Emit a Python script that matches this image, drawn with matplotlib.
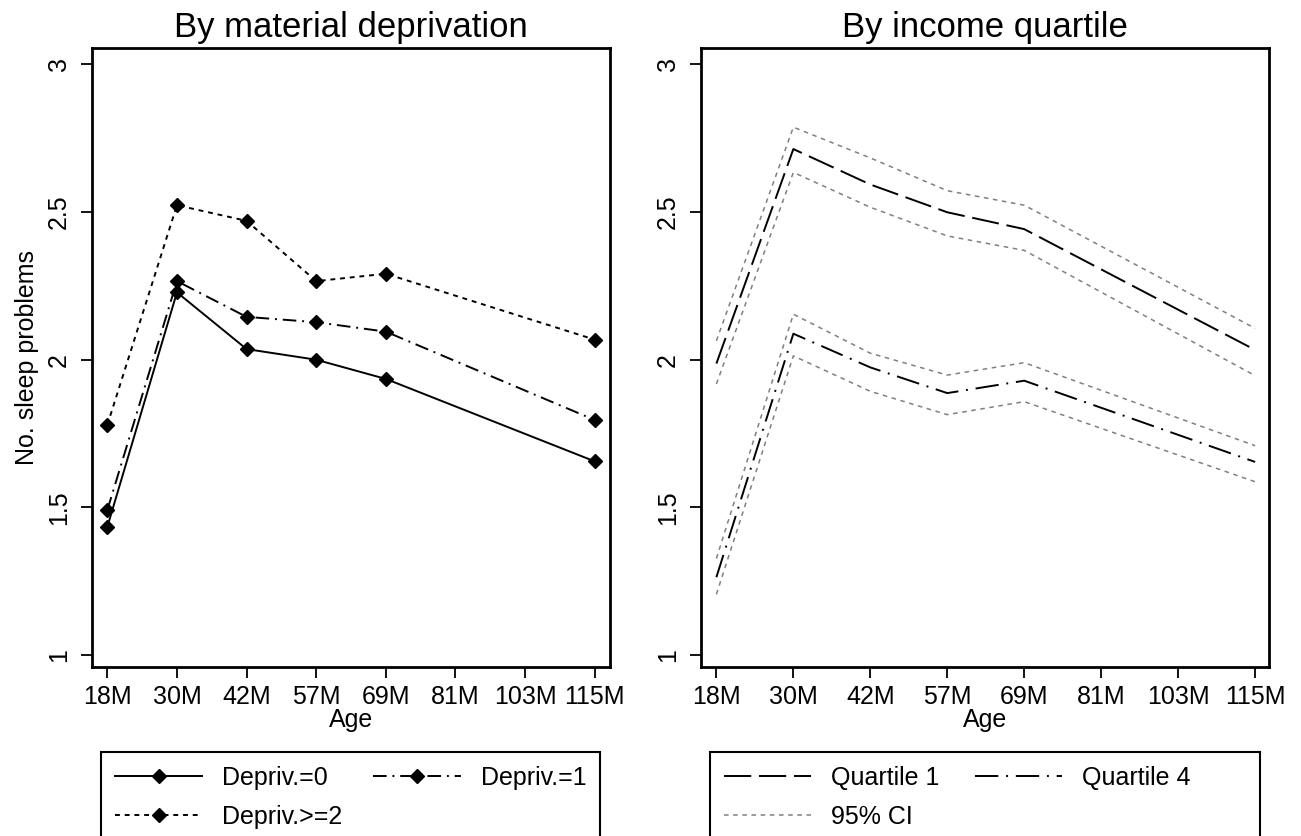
import matplotlib.pyplot as plt

plt.rcParams["font.family"] = ["Liberation Sans", "DejaVu Sans"]

# Age waves on the x axis (categorical) and the waves with observations
ages = ["18M", "30M", "42M", "57M", "69M", "81M", "103M", "115M"]
waves = ["18M", "30M", "42M", "57M", "69M", "115M"]

# Left panel: by material deprivation
depriv_0 = [1.434, 2.228, 2.036, 2.000, 1.935, 1.656]
depriv_1 = [1.491, 2.266, 2.145, 2.127, 2.095, 1.796]
depriv_2 = [1.779, 2.523, 2.470, 2.266, 2.291, 2.068]

# Right panel: by income quartile, with 95% CI
q1 = [1.987, 2.713, 2.593, 2.499, 2.442, 2.033]
q1_hi = [2.064, 2.787, 2.683, 2.572, 2.523, 2.106]
q1_lo = [1.918, 2.634, 2.516, 2.419, 2.370, 1.946]
q4 = [1.264, 2.088, 1.974, 1.887, 1.929, 1.654]
q4_hi = [1.327, 2.154, 2.022, 1.948, 1.990, 1.709]
q4_lo = [1.206, 2.013, 1.893, 1.814, 1.858, 1.587]

yticks = [1, 1.5, 2, 2.5, 3]
ytick_labels = ["1", "1.5", "2", "2.5", "3"]

x = [ages.index(w) for w in waves]

fig = plt.figure(figsize=(13.01, 8.36), dpi=100)
ax1 = fig.add_axes([92 / 1301, 1 - 667 / 836, 518 / 1301, 619 / 836])
ax2 = fig.add_axes([701 / 1301, 1 - 667 / 836, 568 / 1301, 619 / 836])

lw = 1.4
mk = dict(marker="D", markersize=7, color="black")

h0, = ax1.plot(x, depriv_0, linestyle="-", linewidth=lw, **mk)
h1, = ax1.plot(x, depriv_1, linestyle=(0, (7, 3, 1, 3)), linewidth=lw, **mk)
h2, = ax1.plot(x, depriv_2, linestyle=(0, (2.5, 2.5)), linewidth=lw, **mk)

ci_style = dict(color="#808080", linewidth=1.1, linestyle=(0, (3, 3)))
g1, = ax2.plot(x, q1, color="black", linewidth=lw, linestyle=(0, (14, 4)))
ci, = ax2.plot(x, q1_hi, **ci_style)
ax2.plot(x, q1_lo, **ci_style)
g4, = ax2.plot(x, q4, color="black", linewidth=lw, linestyle=(0, (12, 4, 1, 4)))
ax2.plot(x, q4_hi, **ci_style)
ax2.plot(x, q4_lo, **ci_style)

for ax, title, xl in [(ax1, "By material deprivation", (-0.22, 7.22)),
                      (ax2, "By income quartile", (-0.2, 7.18))]:
    ax.set_xlim(xl)
    ax.set_ylim(0.96, 3.055)
    ax.set_xticks(range(len(ages)))
    ax.set_xticklabels(ages)
    ax.set_yticks(yticks)
    ax.set_yticklabels(ytick_labels, rotation=90, va="center")
    ax.tick_params(direction="out", length=8, width=1.3, labelsize=18, pad=5)
    ax.tick_params(axis="y", pad=7)
    for s in ax.spines.values():
        s.set_linewidth(2)
    ax.set_title(title, fontsize=25, pad=8)
    ax.set_xlabel("Age", fontsize=18, labelpad=-1)

ax1.set_ylabel("No. sleep problems", fontsize=18, labelpad=6)

leg_kw = dict(loc="upper left", ncol=2, fontsize=18,
              frameon=True, fancybox=False, framealpha=1, edgecolor="black",
              borderaxespad=0, handlelength=3.5, handletextpad=0.8,
              borderpad=0.55, labelspacing=0.6)

leg1 = fig.legend([h0, h2, h1], ["Depriv.=0", "Depriv.>=2", "Depriv.=1"],
                  bbox_to_anchor=(101 / 1301, 0, 499 / 1301, 1 - 752 / 836),
                  mode="expand", **leg_kw)
leg2 = fig.legend([g1, ci, g4], ["Quartile 1", "95% CI", "Quartile 4        "],
                  bbox_to_anchor=(710 / 1301, 1 - 752 / 836),
                  columnspacing=1.4, **leg_kw)
for leg in (leg1, leg2):
    leg.get_frame().set_linewidth(1.5)

fig.savefig("out.png", dpi=100)
